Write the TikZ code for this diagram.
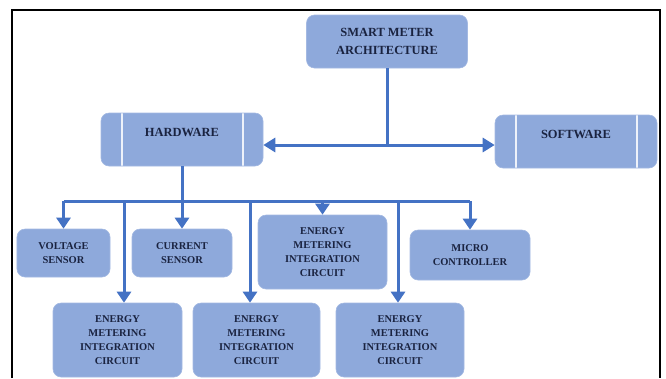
\documentclass[tikz,border=0pt]{standalone}
\usepackage{fontspec}
\setmainfont{Liberation Serif}
\usepackage{xcolor}
\usetikzlibrary{positioning,arrows.meta,calc}

\definecolor{boxfill}{HTML}{8EA9DB}
\definecolor{boxedge}{HTML}{A4B9E2}
\definecolor{linkblue}{HTML}{4472C4}
\definecolor{labelnavy}{HTML}{1A2340}

\begin{document}
\begin{tikzpicture}[
  x=1bp, y=-1bp,
  unit/.style={fill=boxfill, draw=boxedge, line width=0.6bp, rounded corners=8bp, inner sep=0pt,
               align=center, text=labelnavy, font=\bfseries\fontsize{10.5}{14}\selectfont},
  head/.style={unit, minimum width=161bp, minimum height=53bp, font=\bfseries\fontsize{12.5}{18}\selectfont},
  side/.style={unit, minimum width=162bp, minimum height=53bp, font=\bfseries\fontsize{12.5}{15}\selectfont,
    path picture={
      \draw[white!85!boxfill, line width=1.2bp]
        ([xshift=21bp]path picture bounding box.north west) -- ([xshift=21bp]path picture bounding box.south west)
        ([xshift=-20bp]path picture bounding box.north east) -- ([xshift=-20bp]path picture bounding box.south east);}},
  link/.style={draw=linkblue, line width=3bp},
  flow/.style={link, -{Triangle[length=11bp,width=14bp]}},
  twoway/.style={link, {Triangle[length=12bp,width=14bp]}-{Triangle[length=12bp,width=14bp]}}
]
\useasboundingbox (0,0) rectangle (666,378);
\draw[line width=2bp] (12,378) |- (660,10) -- (660,378);

% top level
\node[head] (arch) at (387,41.5) {SMART METER\\ARCHITECTURE};
\node[side] (hw) at (182,139.5) {HARDWARE\\\mbox{}};
\node[side] (sw) at (576,141.5) {SOFTWARE\\\mbox{}};

% hardware parts
\node[unit, minimum width=93bp, minimum height=48bp] (volt) at (63.5,253) {VOLTAGE\\SENSOR};
\node[unit, minimum width=100bp, minimum height=48bp] (cur) at (182,253) {CURRENT\\SENSOR};
\node[unit, minimum width=129bp, minimum height=74bp] (emB) at (322.5,252) {ENERGY\\METERING\\INTEGRATION\\CIRCUIT};
\node[unit, minimum width=120bp, minimum height=50bp] (micro) at (470,255) {MICRO\\CONTROLLER};
\node[unit, minimum width=129bp, minimum height=74bp] (emA) at (117.5,340) {ENERGY\\METERING\\INTEGRATION\\CIRCUIT};
\node[unit, minimum width=127bp, minimum height=74bp] (emC) at (256.5,340) {ENERGY\\METERING\\INTEGRATION\\CIRCUIT};
\node[unit, minimum width=128bp, minimum height=74bp] (emD) at (400,340) {ENERGY\\METERING\\INTEGRATION\\CIRCUIT};

% connectors
\coordinate (hub) at (387,145);
\coordinate (bus) at (182,201);
\draw[link] (arch) -- (hub);
\draw[twoway] (hub -| hw.east) -- (hub -| sw.west);
\draw[flow] (hw) -- (cur);
\draw[link] (bus -| volt) -- (bus -| micro);
\draw[flow] (bus -| volt) -- (volt);
\draw[flow] ([xshift=6.5bp]emA.north |- bus) -- ([xshift=6.5bp]emA.north);
\draw[flow] ([xshift=-6.5bp]emC.north |- bus) -- ([xshift=-6.5bp]emC.north);
\draw[flow] (bus -| emB) -- (emB);
\draw[flow] ([xshift=-2bp]emD.north |- bus) -- ([xshift=-2bp]emD.north);
\draw[flow] (bus -| micro) -- (micro);
\end{tikzpicture}
\end{document}
